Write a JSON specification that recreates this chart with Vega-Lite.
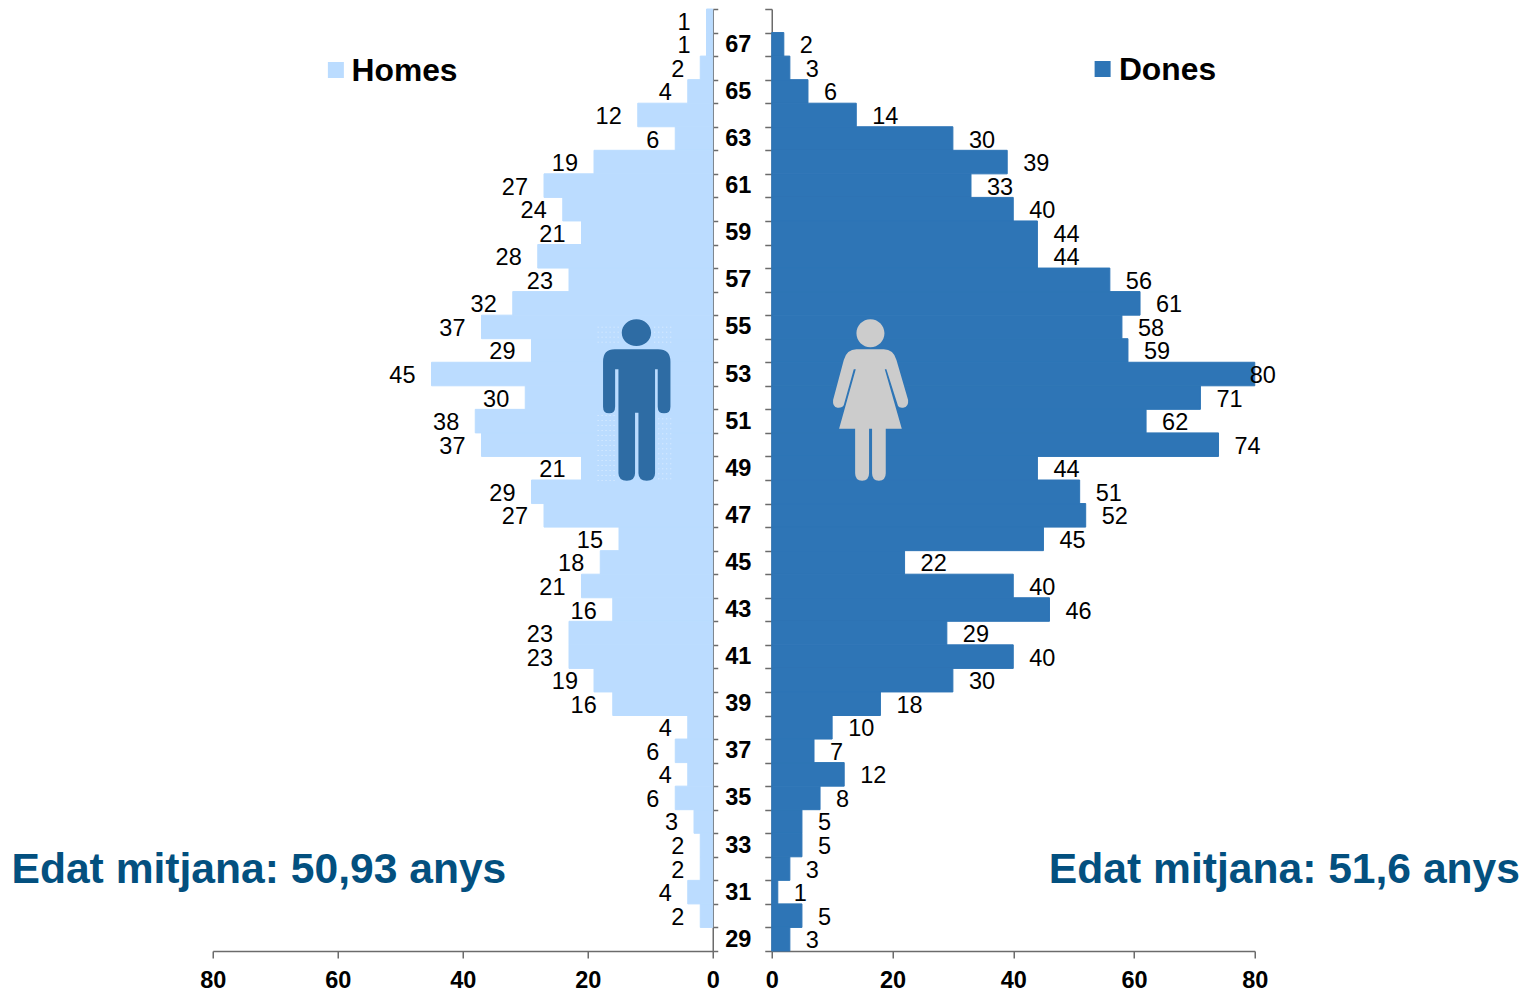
{
"$schema":"https://vega.github.io/schema/vega-lite/v6.json",
"background":"white",
"padding":{"left":10.75,"top":-3,"right":0,"bottom":0},
"bounds":"flush",
"spacing":59,
"config":{"view":{"stroke":null},"font":"Liberation Sans","text":{"font":"Liberation Sans"}},
"datasets":{
"homes":[{"age":68,"n":1},{"age":67,"n":1},{"age":66,"n":2},{"age":65,"n":4},{"age":64,"n":12},{"age":63,"n":6},{"age":62,"n":19},{"age":61,"n":27},{"age":60,"n":24},{"age":59,"n":21},{"age":58,"n":28},{"age":57,"n":23},{"age":56,"n":32},{"age":55,"n":37},{"age":54,"n":29},{"age":53,"n":45},{"age":52,"n":30},{"age":51,"n":38},{"age":50,"n":37},{"age":49,"n":21},{"age":48,"n":29},{"age":47,"n":27},{"age":46,"n":15},{"age":45,"n":18},{"age":44,"n":21},{"age":43,"n":16},{"age":42,"n":23},{"age":41,"n":23},{"age":40,"n":19},{"age":39,"n":16},{"age":38,"n":4},{"age":37,"n":6},{"age":36,"n":4},{"age":35,"n":6},{"age":34,"n":3},{"age":33,"n":2},{"age":32,"n":2},{"age":31,"n":4},{"age":30,"n":2}],
"dones":[{"age":67,"n":2},{"age":66,"n":3},{"age":65,"n":6},{"age":64,"n":14},{"age":63,"n":30},{"age":62,"n":39},{"age":61,"n":33},{"age":60,"n":40},{"age":59,"n":44},{"age":58,"n":44},{"age":57,"n":56},{"age":56,"n":61},{"age":55,"n":58},{"age":54,"n":59},{"age":53,"n":80},{"age":52,"n":71},{"age":51,"n":62},{"age":50,"n":74},{"age":49,"n":44},{"age":48,"n":51},{"age":47,"n":52},{"age":46,"n":45},{"age":45,"n":22},{"age":44,"n":40},{"age":43,"n":46},{"age":42,"n":29},{"age":41,"n":40},{"age":40,"n":30},{"age":39,"n":18},{"age":38,"n":10},{"age":37,"n":7},{"age":36,"n":12},{"age":35,"n":8},{"age":34,"n":5},{"age":33,"n":5},{"age":32,"n":3},{"age":31,"n":1},{"age":30,"n":5},{"age":29,"n":3}]
},
"hconcat":[
{
"width":500,"height":942,
"encoding":{
"y":{"field":"age","type":"ordinal","title":null,
"scale":{"domain":[68,67,66,65,64,63,62,61,60,59,58,57,56,55,54,53,52,51,50,49,48,47,46,45,44,43,42,41,40,39,38,37,36,35,34,33,32,31,30,29],"paddingInner":0,"paddingOuter":0},
"axis":{"orient":"right","labels":false,"tickBand":"extent","tickSize":5,"tickColor":"#6b6b6b","tickWidth":1.5,"domainColor":"#6b6b6b","domainWidth":1.5,"grid":false,"title":null}},
"x":{"field":"n","type":"quantitative","title":null,
"scale":{"domain":[80,0],"nice":false,"zero":false},
"axis":{"values":[0,20,40,60,80],"grid":false,"tickSize":7,"tickColor":"#6b6b6b","tickWidth":1.5,"domainColor":"#6b6b6b","domainWidth":1.5,"labelFont":"Liberation Sans","labelFontWeight":"bold","labelFontSize":23.5,"labelColor":"#000000","labelPadding":10,"labelFlush":false,"labelOverlap":false,"title":null}}
},
"layer":[
{"data":{"name":"homes"},"mark":{"type":"bar","color":"#BBDCFF","stroke":"#BBDCFF","strokeWidth":1,"opacity":1},"encoding":{"x":{"field":"n","type":"quantitative","stack":null},"x2":{"datum":0}}},
{"data":{"name":"homes"},"mark":{"type":"text","align":"right","baseline":"middle","dx":-16,"dy":2,"fontSize":23.5,"color":"#000000"},"encoding":{"text":{"field":"n","type":"quantitative"}}},
{"data":{"values":[{"age":52,"n":12.16}]},"mark":{"type":"point","filled":false,"stroke":"#ffffff","strokeWidth":1,"strokeDash":[1,4],"opacity":0.55,"size":26244,"shape":"M-0.477,-0.905L-0.477,-0.658M-0.428,-0.905L-0.428,-0.658M-0.379,-0.905L-0.379,-0.658M-0.329,-0.905L-0.329,-0.658M-0.280,-0.905L-0.280,-0.658M-0.230,-0.905L-0.230,-0.658M0.222,-0.905L0.222,-0.658M0.272,-0.905L0.272,-0.658M0.321,-0.905L0.321,-0.658M0.370,-0.905L0.370,-0.658M0.420,-0.905L0.420,-0.658M-0.477,0.185L-0.477,1.029M-0.428,0.185L-0.428,1.029M-0.379,0.185L-0.379,1.029M-0.329,0.185L-0.329,1.029M-0.280,0.185L-0.280,1.029M0.272,0.226L0.272,0.988M0.321,0.226L0.321,0.988M0.370,0.226L0.370,0.988M0.420,0.226L0.420,0.988"},"encoding":{"yOffset":{"value":14.2}}},
{"data":{"values":[{"age":52,"n":12.16}]},"mark":{"type":"point","filled":true,"fill":"#2E6CA4","stroke":null,"opacity":1,"size":26244,"shape":"M-0.185,-0.831A0.181,0.165 0 1,1 0.177,-0.831A0.181,0.165 0 1,1 -0.185,-0.831ZM-0.272,-0.626L0.263,-0.626Q0.416,-0.626 0.416,-0.473L0.416,0.082Q0.416,0.165 0.337,0.165Q0.259,0.165 0.259,0.082L0.259,-0.379L0.226,-0.379L0.226,0.905Q0.226,0.996 0.123,0.996Q0.021,0.996 0.021,0.905L0.021,0.156L-0.021,0.156L-0.021,0.905Q-0.021,0.996 -0.123,0.996Q-0.226,0.996 -0.226,0.905L-0.226,-0.379L-0.267,-0.379L-0.267,0.082Q-0.267,0.165 -0.341,0.165Q-0.416,0.165 -0.416,0.082L-0.416,-0.473Q-0.416,-0.626 -0.272,-0.626Z"},"encoding":{"yOffset":{"value":14.2}}},
{"data":{"values":[{"age":66,"n":60.3}]},"mark":{"type":"point","shape":"square","filled":true,"fill":"#BBDCFF","stroke":null,"opacity":1,"size":256},"encoding":{"yOffset":{"value":13.9}}},
{"data":{"values":[{"age":66,"n":57.8,"t":"Homes"}]},"mark":{"type":"text","align":"left","baseline":"middle","dy":3,"fontSize":31.8,"fontWeight":"bold","color":"#000000"},"encoding":{"text":{"field":"t"}}},
{"data":{"values":[{"age":32,"n":112.2,"t":"Edat mitjana: 50,93 anys"}]},"mark":{"type":"text","align":"left","baseline":"middle","dy":1,"fontSize":42.6,"fontWeight":"bold","color":"#03507F"},"encoding":{"text":{"field":"t"}}}
]
},
{
"width":483,"height":942,
"encoding":{
"y":{"field":"age","type":"ordinal","title":null,
"scale":{"domain":[68,67,66,65,64,63,62,61,60,59,58,57,56,55,54,53,52,51,50,49,48,47,46,45,44,43,42,41,40,39,38,37,36,35,34,33,32,31,30,29],"paddingInner":0,"paddingOuter":0},
"axis":{"orient":"left","tickBand":"extent","tickSize":7,"tickColor":"#6b6b6b","tickWidth":1.5,"domainColor":"#6b6b6b","domainWidth":1.5,"grid":false,"labelAlign":"center","labelBaseline":"middle","labelPadding":27,"labelFont":"Liberation Sans","labelFontWeight":"bold","labelFontSize":23.5,"labelColor":"#000000","labelOverlap":false,"labelExpr":"datum.value % 2 == 1 ? datum.label : ''","title":null}},
"x":{"field":"n","type":"quantitative","title":null,
"scale":{"domain":[0,80],"nice":false,"zero":false},
"axis":{"values":[0,20,40,60,80],"grid":false,"tickSize":7,"tickColor":"#6b6b6b","tickWidth":1.5,"domainColor":"#6b6b6b","domainWidth":1.5,"labelFont":"Liberation Sans","labelFontWeight":"bold","labelFontSize":23.5,"labelColor":"#000000","labelPadding":10,"labelFlush":false,"labelOverlap":false,"title":null}}
},
"layer":[
{"data":{"name":"dones"},"mark":{"type":"bar","color":"#2E75B6","stroke":"#2E75B6","strokeWidth":1,"opacity":1},"encoding":{"x":{"field":"n","type":"quantitative","stack":null}}},
{"data":{"name":"dones"},"transform":[{"filter":"datum.n < 80"}],"mark":{"type":"text","align":"left","baseline":"middle","dx":16,"dy":2,"fontSize":23.5,"color":"#000000"},"encoding":{"text":{"field":"n","type":"quantitative"}}},
{"data":{"name":"dones"},"transform":[{"filter":"datum.n == 80"}],"mark":{"type":"text","align":"left","baseline":"middle","dx":-5,"dy":2,"fontSize":23.5,"color":"#000000"},"encoding":{"text":{"field":"n","type":"quantitative"}}},
{"data":{"values":[{"age":52,"n":16.4}]},"mark":{"type":"point","filled":true,"fill":"#CCCCCC","stroke":null,"opacity":1,"size":26244,"shape":"M-0.177,-0.823A0.173,0.173 0 1,1 0.169,-0.823A0.173,0.173 0 1,1 -0.177,-0.823ZM-0.177,-0.626L0.160,-0.626Q0.280,-0.626 0.317,-0.494L0.461,0Q0.470,0.085 0.400,0.095Q0.350,0.100 0.337,0.074L0.193,-0.379L0.173,-0.379L0.383,0.354L0.185,0.354L0.185,0.905Q0.185,0.996 0.100,0.996Q0.016,0.996 0.016,0.905L0.016,0.354L-0.021,0.354L-0.021,0.905Q-0.021,0.996 -0.107,0.996Q-0.193,0.996 -0.193,0.905L-0.193,0.354L-0.391,0.354L-0.185,-0.379L-0.210,-0.379L-0.333,0.062Q-0.350,0.100 -0.410,0.095Q-0.475,0.085 -0.465,0L-0.333,-0.494Q-0.295,-0.626 -0.177,-0.626Z"},"encoding":{"yOffset":{"value":14.2}}},
{"data":{"values":[{"age":66,"n":54.8}]},"mark":{"type":"point","shape":"square","filled":true,"fill":"#2E75B6","stroke":null,"opacity":1,"size":256},"encoding":{"yOffset":{"value":12.9}}},
{"data":{"values":[{"age":66,"n":57.5,"t":"Dones"}]},"mark":{"type":"text","align":"left","baseline":"middle","dy":2,"fontSize":31.8,"fontWeight":"bold","color":"#000000"},"encoding":{"text":{"field":"t"}}},
{"data":{"values":[{"age":32,"n":45.9,"t":"Edat mitjana: 51,6 anys"}]},"mark":{"type":"text","align":"left","baseline":"middle","dy":1,"fontSize":42.6,"fontWeight":"bold","color":"#03507F"},"encoding":{"text":{"field":"t"}}}
]
}
]
}
